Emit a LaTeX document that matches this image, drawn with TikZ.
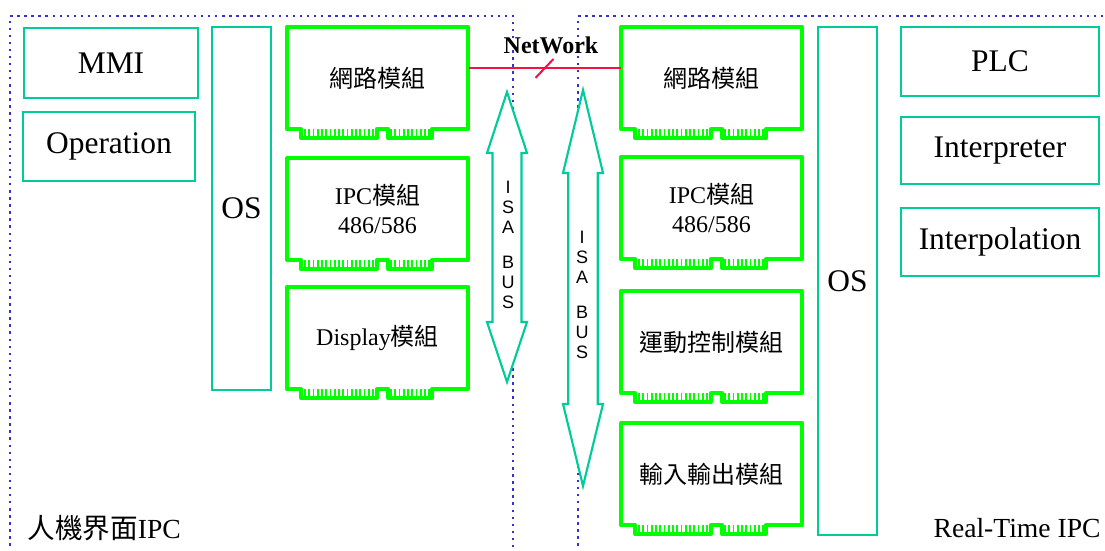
\documentclass[tikz,border=0pt]{standalone}
\usepackage{fontspec}
\setmainfont{Liberation Serif}
\newfontfamily\cjk{Noto Sans CJK TC}
\newfontfamily\busfont{Liberation Sans}

\definecolor{boxteal}{RGB}{0,204,153}
\definecolor{cardgreen}{RGB}{0,255,0}
\definecolor{frameblue}{RGB}{51,51,204}
\definecolor{netred}{RGB}{240,20,70}

\tikzset{every picture/.style={line width=0.75pt}}
\tikzset{
  swbox/.style={draw=boxteal, line width=1.5pt, inner sep=0pt, font=\fontsize{23.6}{28}\selectfont},
  card/.style={draw=cardgreen, line width=3pt, line join=round},
  pin/.style={draw=cardgreen, line width=1.4pt},
  cardtext/.style={inner sep=0pt, minimum width=135.75pt, minimum height=76.5pt, align=center, font=\fontsize{18}{21.75}\selectfont},
  busarrow/.style={draw=boxteal, fill=white, line width=1.6pt},
  bustext/.style={inner sep=0pt, align=center, font=\busfont\fontsize{13.5}{15}\selectfont},
  hostframe/.style={draw=frameblue, line width=1.8pt, dash pattern=on 1.8pt off 3.5pt},
  netline/.style={draw=netred, line width=1.5pt},
  hostlabel/.style={inner sep=0pt, font=\fontsize{20.7}{24}\selectfont},
}

% plug-in card with edge connector: name, left, top, text
\newcommand{\slotcard}[4]{%
  \begin{scope}[shift={(#2,#3)}]
    \draw[card] (0,0) -- (181,0) -- (181,102) -- (145,102) -- (145,111) -- (101,111) -- (101,102)
      -- (90,102) -- (90,111) -- (14,111) -- (14,102) -- (0,102) -- cycle ;
    \foreach \k in {0,...,16} {\draw[pin] ({18+4.25*\k},102) -- ++(0,9) ;}
    \foreach \k in {0,...,9} {\draw[pin] ({104+4.25*\k},102) -- ++(0,9) ;}
    \node[cardtext] (#1) at (90.5,51) {#4};
  \end{scope}}

\begin{document}
\begin{tikzpicture}[x=0.75pt,y=0.75pt,yscale=-1,xscale=1]
\useasboundingbox (0,0) rectangle (1105,550);

%Dotted frames of the two PCs
\draw[hostframe] (10,560) -- (10,16) -- (513,16) -- (513,560) ;
\draw[hostframe] (578,560) -- (578,16) -- (1115,16) ;

%Shape: Double Arrow (left bus)
\draw[busarrow] (507,92) -- (527,153) -- (521.5,153) -- (521.5,322) -- (527,322) -- (507,382)
  -- (487,322) -- (492.5,322) -- (492.5,153) -- (487,153) -- cycle ;
%Shape: Double Arrow (right bus)
\draw[busarrow] (583,90) -- (603,173) -- (597.7,173) -- (597.7,404) -- (603,404) -- (583,486)
  -- (563,404) -- (568.3,404) -- (568.3,173) -- (563,173) -- cycle ;

% Bus labels
\node[bustext] (lbus) at (508,245) {I\\S\\A\\[11pt]B\\U\\S};
\node[bustext] (rbus) at (582,295) {I\\S\\A\\[11pt]B\\U\\S};

%Shape: Cards
\slotcard{lnet}{287}{27}{{\cjk 網路模組}}
\slotcard{lipc}{287}{158}{IPC{\cjk 模組}\\486/586}
\slotcard{ldisp}{287}{287}{Display{\cjk 模組}}
\slotcard{rnet}{621}{27}{{\cjk 網路模組}}
\slotcard{ripc}{621}{157}{IPC{\cjk 模組}\\486/586}
\slotcard{rmotion}{621}{291}{{\cjk 運動控制模組}}
\slotcard{rio}{621}{423}{{\cjk 輸入輸出模組}}

%Shape: Rectangles (software layers)
\node[swbox, minimum width=130.5pt, minimum height=52.5pt] (mmi) at (111,63) {MMI};
\node[swbox, minimum width=129pt, minimum height=51.75pt] (oper) at (109,146.5) {Operation};
\node[swbox, minimum width=44.25pt, minimum height=272.25pt] (los) at (241.5,208.5) {OS};
\node[swbox, minimum width=44.25pt, minimum height=381pt] (ros) at (847.5,281) {OS};
\node[swbox, minimum width=148.5pt, minimum height=51.75pt] (plc) at (1000,61.5) {PLC};
\node[swbox, minimum width=148.5pt, minimum height=50.25pt] (interp) at (1000,150.5) {Interpreter};
\node[swbox, minimum width=148.5pt, minimum height=51pt] (interpol) at (1000,242) {Interpolation};

%Straight Lines (network link)
\draw[netline] (lnet.6) -- coordinate[pos=0.5] (netmid) (rnet.174) ;
\draw[netline] (netmid) +(-9,9.5) -- +(9,-9.5) ;

% Text Node
\node[inner sep=0pt, font=\fontsize{18}{21}\selectfont\bfseries] (netlbl) at (551,45) {NetWork};
% Text Node
\node[hostlabel, anchor=west] (lhost) at (27,528) {{\cjk 人機界面}IPC};
% Text Node
\node[hostlabel, anchor=east] (rhost) at (1101,528) {Real-Time IPC};

\end{tikzpicture}
\end{document}
